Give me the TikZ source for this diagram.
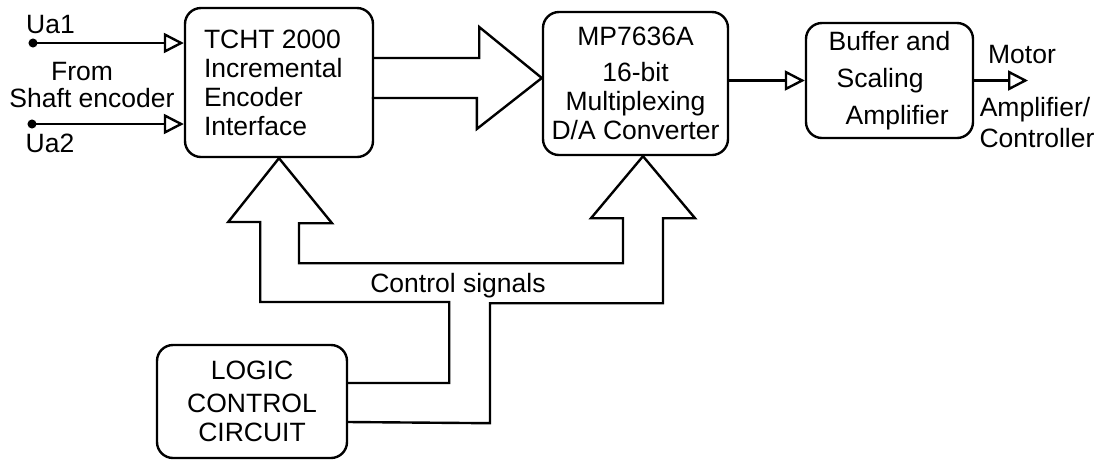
\documentclass[tikz,border=0pt]{standalone}
\usepackage{fontspec}
\setmainfont{Liberation Sans}
\usetikzlibrary{arrows.meta,calc}

\begin{document}
\begin{tikzpicture}[x=0.5pt,y=-0.5pt,line width=1.2pt,
		block/.style={draw, rounded corners=8pt, align=center, inner sep=0pt},
		sig/.style={-{Triangle[open,length=10pt,width=10pt]}},
		bus/.style={line join=miter}]
			\fontsize{13.25}{14.5}\selectfont
			\useasboundingbox (0,0) rectangle (1104,462);

			% Blocks
			\node[block, align=flush left, text width=75pt, minimum width=94pt, minimum height=74.5pt] (tcht) at (279,82.5) {TCHT 2000\\Incremental\\Encoder\\Interface};
			\node[block, minimum width=92.5pt, minimum height=71.5pt] (mp) at (635.5,83.5) {MP7636A\\[3.5pt]16-bit\\Multiplexing\\D/A Converter};
			\node[block, align=left, minimum width=83.5pt, minimum height=57.5pt] (buf) at (889.5,80.5) {Buffer and\\[4pt]\hspace*{4pt}Scaling\\[4pt]\hspace*{8.5pt}Amplifier};
			\node[block, minimum width=95pt, minimum height=56.5pt] (logic) at (252,401.5) {LOGIC\\[2pt]CONTROL\\CIRCUIT};

			% Encoder inputs
			\node[circle, fill, inner sep=1.6pt] (ua1) at (33,43) {};
			\node[circle, fill, inner sep=1.6pt] (ua2) at (32,124) {};
			\node[anchor=base] (lua1) at (50.5,33) {Ua1};
			\node[anchor=base] (lua2) at (50,152) {Ua2};
			\node[anchor=base] (from) at (82,80) {From};
			\node[anchor=base] (shaft) at (92,107) {Shaft encoder};
			\draw[sig] (ua1.center) -- (ua1 -| tcht.west);
			\draw[sig] (ua2.center) -- (ua2 -| tcht.west);

			% Data bus
			\draw[bus] ($(tcht.east)+(0,-24.5)$) -- ++(105,0) -- ++(0,-31) -- ($(mp.west)+(0,-5.5)$)
				-- ++(-65,51) -- ++(0,-31) -- ++(-105,0);

			% Output chain
			\coordinate (mtip) at (1028,80.5);
			\draw[sig] (mp.east |- buf.west) -- (buf.west);
			\draw[sig] (buf.east) -- (mtip);
			\node[anchor=base] (motor) at (1022,63) {Motor};
			\node[anchor=base] (ampl) at (1035,116) {Amplifier/};
			\node[anchor=base] (contr) at (1037,147) {Controller};

			% Control bus
			\draw[bus] ($(logic.east)+(0,-18.5)$) -- ++(101,0) -- ++(0,-81) -- ++(-189,0) -- ++(0,-80) -- ++(-32,0)
				-- (tcht.south) -- ++(53,65) -- ++(-33,0) -- ++(0,40) -- ++(324,0) -- ++(0,-45) -- ++(-32,0)
				-- ($(mp.south)+(7.5,0)$) -- ++(52,62) -- ++(-32,0) -- ++(0,85) -- ++(-173,0) -- ++(0,120)
				-- ($(logic.east)+(0,20.5)$);
			\node[anchor=base] (ctrl) at (458,292) {Control signals};
		\end{tikzpicture}
\end{document}
